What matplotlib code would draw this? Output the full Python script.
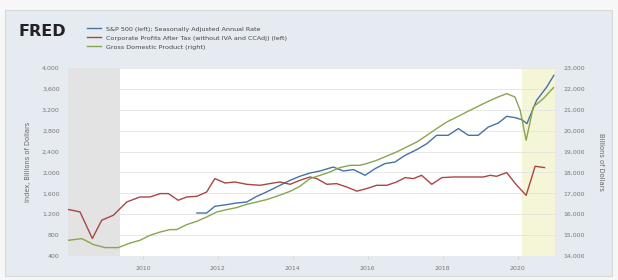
import matplotlib.pyplot as plt
from matplotlib.patches import Rectangle

# S&P 500 (left axis)
sp_years = [2011.44, 2011.70, 2011.92, 2012.24, 2012.50, 2012.77, 2013.04, 2013.30,
            2013.66, 2013.93, 2014.19, 2014.46, 2014.73, 2015.08, 2015.35, 2015.62,
            2015.93, 2016.20, 2016.46, 2016.73, 2017.00, 2017.31, 2017.58, 2017.84,
            2018.15, 2018.42, 2018.69, 2018.95, 2019.22, 2019.49, 2019.71, 2019.93,
            2020.11, 2020.25, 2020.51, 2020.78, 2020.97]
sp_vals = [1223, 1223, 1352, 1384, 1415, 1434, 1543, 1626,
           1754, 1850, 1926, 1989, 2028, 2104, 2028, 2055,
           1945, 2074, 2169, 2200, 2328, 2437, 2552, 2711,
           2711, 2840, 2711, 2711, 2870, 2947, 3075, 3050,
           3012, 2935, 3382, 3637, 3860]

# Corporate profits after tax (left axis)
cp_years = [2008.01, 2008.32, 2008.65, 2008.90, 2009.21, 2009.57, 2009.92, 2010.19,
            2010.46, 2010.68, 2010.94, 2011.17, 2011.44, 2011.70, 2011.92, 2012.19,
            2012.46, 2012.77, 2013.13, 2013.48, 2013.66, 2013.93, 2014.19, 2014.46,
            2014.64, 2014.91, 2015.17, 2015.44, 2015.71, 2015.97, 2016.24, 2016.51,
            2016.77, 2017.00, 2017.22, 2017.44, 2017.71, 2017.98, 2018.29, 2018.55,
            2018.82, 2019.09, 2019.27, 2019.44, 2019.71, 2019.98, 2020.23, 2020.47,
            2020.72]
cp_vals = [1290, 1245, 735, 1085, 1180, 1435, 1530, 1530,
           1595, 1595, 1467, 1530, 1543, 1625, 1882, 1798,
           1817, 1773, 1754, 1798, 1817, 1773, 1850, 1913,
           1882, 1773, 1786, 1721, 1642, 1690, 1754, 1754,
           1817, 1901, 1882, 1945, 1773, 1901, 1913, 1913,
           1913, 1913, 1945, 1926, 1997, 1754, 1562, 2118,
           2093]

# Gross domestic product (right axis)
gdp_years = [2008.01, 2008.37, 2008.68, 2008.99, 2009.34, 2009.66, 2009.92, 2010.19,
             2010.46, 2010.72, 2010.90, 2011.17, 2011.44, 2011.70, 2011.97, 2012.24,
             2012.50, 2012.77, 2013.04, 2013.30, 2013.57, 2013.93, 2014.19, 2014.46,
             2014.73, 2014.99, 2015.26, 2015.53, 2015.79, 2015.97, 2016.24, 2016.51,
             2016.77, 2017.04, 2017.31, 2017.58, 2017.84, 2018.11, 2018.38, 2018.64,
             2018.91, 2019.18, 2019.44, 2019.71, 2019.93, 2020.07, 2020.23, 2020.42,
             2020.69, 2020.96]
gdp_vals = [14751, 14833, 14546, 14402, 14402, 14622, 14751, 14991,
            15149, 15264, 15264, 15503, 15661, 15867, 16106, 16221,
            16317, 16475, 16585, 16700, 16858, 17097, 17337, 17705,
            17863, 18021, 18232, 18342, 18342, 18423, 18581, 18787,
            18979, 19218, 19457, 19778, 20099, 20414, 20654, 20893,
            21133, 21372, 21583, 21774, 21611, 20975, 19539, 21133,
            21535, 22061]

left_ticks = list(range(400, 4001, 400))
right_ticks = list(range(14000, 23001, 1000))
x_ticks = [2010, 2012, 2014, 2016, 2018, 2020]

labels = ["S&P 500 (left); Seasonally Adjusted Annual Rate",
          "Corporate Profits After Tax (without IVA and CCAdj) (left)",
          "Gross Domestic Product (right)"]

blue = '#4572a7'
red = '#aa4643'
green = '#89a54e'
tick_col = '#777777'

fig = plt.figure(figsize=(6.18, 2.8), dpi=100)
fig.patch.set_facecolor('#f7f7f7')
fig.patches.append(Rectangle((5 / 618, 4 / 280), 607 / 618, 266 / 280,
                             transform=fig.transFigure, facecolor='#e6ebf1',
                             edgecolor='#d8d8d8', lw=0.8, zorder=-5))

ax = fig.add_axes([68 / 618, 1 - 256 / 280, 487 / 618, 188 / 280])
ax.set_facecolor('white')
ax.axvspan(2008.0, 2009.4, color='#e3e3e3', lw=0, zorder=0)
ax.axvspan(2020.13, 2021.1, color='#f5f5d7', lw=0, zorder=0)

l1, = ax.plot(sp_years, sp_vals, color=blue, lw=1.0)
l2, = ax.plot(cp_years, cp_vals, color=red, lw=1.0)
ax.set_xlim(2008.0, 2021.0)
ax.set_ylim(400, 4000)
ax.set_yticks(left_ticks)
ax.set_yticklabels([f"{v:,}" for v in left_ticks])
ax.set_xticks(x_ticks)
ax.grid(axis='y', color='#e4e4e4', lw=0.6)
ax.set_axisbelow(True)
ax.set_ylabel("Index, Billions of Dollars", fontsize=4.8, color='#666666', labelpad=8)

ax2 = ax.twinx()
l3, = ax2.plot(gdp_years, gdp_vals, color=green, lw=1.0)
ax2.set_ylim(14000, 23000)
ax2.set_yticks(right_ticks)
ax2.set_yticklabels([f"{v:,}" for v in right_ticks])
ax2.set_ylabel("Billions of Dollars", fontsize=4.8, color='#666666',
               rotation=270, labelpad=14)

for a in (ax, ax2):
    for s in a.spines.values():
        s.set_visible(False)
    a.tick_params(axis='y', length=0, labelsize=4.5, labelcolor=tick_col, pad=6)
ax.tick_params(axis='x', length=2, width=0.5, color='#cccccc', labelsize=4.5,
               labelcolor=tick_col, pad=5)

fig.text(18 / 618, 1 - 36 / 280, "FRED", fontsize=11.5, fontweight='heavy',
         color='#222222', family='DejaVu Sans')
fig.legend([l1, l2, l3], labels, loc='upper left',
           bbox_to_anchor=(84 / 618, 1 - 23 / 280), frameon=False,
           fontsize=4.6, handlelength=2.2, handletextpad=0.8,
           labelspacing=0.55, borderpad=0, labelcolor='#444444')

fig.savefig('out.png', dpi=100, facecolor=fig.get_facecolor())
